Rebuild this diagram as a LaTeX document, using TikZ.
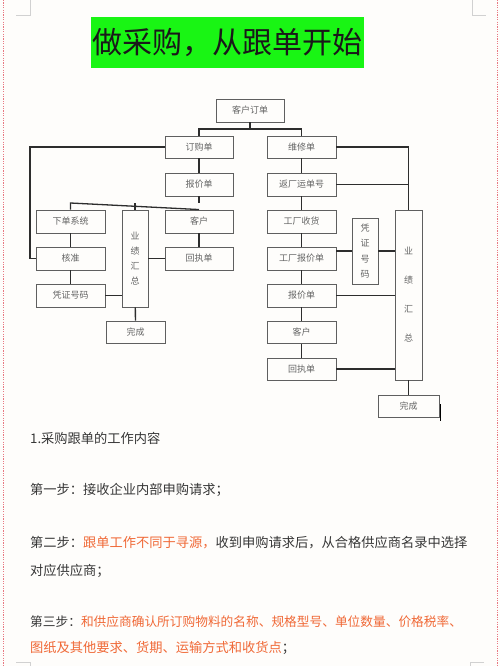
\documentclass[tikz,border=0pt]{standalone}
\usepackage{fontspec}
\setmainfont{Noto Sans CJK SC}
\usetikzlibrary{calc}
\definecolor{boxline}{RGB}{95,95,95}
\definecolor{conn}{RGB}{45,45,45}
\definecolor{boxtext}{RGB}{100,100,100}
\definecolor{txt}{RGB}{55,55,55}
\definecolor{org}{RGB}{240,105,55}
\definecolor{grn}{RGB}{25,245,20}
\definecolor{pinkred}{RGB}{232,120,130}
\definecolor{paper}{RGB}{254,253,251}
\tikzset{
  box/.style={draw=boxline, line width=0.9pt, minimum width=68pt, minimum height=23pt, inner sep=0pt, text=boxtext, font=\fontsize{9}{11}\selectfont},
  vbox/.style={box, minimum width=26pt, align=center},
  link/.style={draw=conn, line width=1.3pt},
  para/.style={anchor=west, inner sep=0pt, text=txt, font=\fontsize{13.25}{16}\selectfont},
  corner/.style={draw=black!18, line width=0.8pt}
}
\begin{document}
\begin{tikzpicture}[x=1pt,y=-1pt]
\fill[paper] (0,0) rectangle (500,666);
\useasboundingbox (0,0) rectangle (500,666);
% page border and corner marks
\draw[pinkred, line width=0.9pt, dash pattern=on 1.2pt off 1.2pt] (3,0) -- (3,666);
\draw[pinkred, line width=0.9pt, dash pattern=on 1.2pt off 1.2pt] (497,0) -- (497,666);
\draw[corner] (30,0) -- (30,15) -- (16,15);
\draw[corner] (472,0) -- (472,15) -- (486,15);
\draw[corner] (16,662) -- (30,662) -- (30,666);
\draw[corner] (484,662) -- (470,662) -- (470,666);

% title
\node[fill=grn, minimum width=273pt, minimum height=51pt, inner sep=0pt, font=\fontsize{30}{32}\selectfont, text=black!90] (title) at (227.5,42.5) {做采购，从跟单开始};

% top
\node[box] (kd) at (250,110.5) {客户订单};
% left branch
\node[box, minimum height=22pt] (dgd) at (199,147) {订购单};
\node[box] (bjd) at (199,184.5) {报价单};
\node[box, minimum width=69pt] (xdxt) at (70.5,221.5) {下单系统};
\node[vbox, minimum height=97pt, font=\fontsize{9}{15}\selectfont] (yj1) at (135,258.5) {业\\绩\\汇\\总};
\node[box] (kh1) at (199,221.5) {客户};
\node[box, minimum width=69pt] (hz) at (70.5,258.5) {核准};
\node[box] (hzd1) at (199,258.5) {回执单};
\node[box, minimum width=69pt] (pz1) at (70.5,295.5) {凭证号码};
\node[box, minimum width=59pt, minimum height=22pt] (wc1) at (135.5,332) {完成};
% right branch
\node[box, minimum width=69pt, minimum height=22pt] (wxd) at (301.5,147) {维修单};
\node[box, minimum width=69pt] (fc) at (301.5,184.5) {返厂运单号};
\node[box, minimum width=69pt] (gcsh) at (301.5,221.5) {工厂收货};
\node[box, minimum width=69pt] (gcbj) at (301.5,258.5) {工厂报价单};
\node[box, minimum width=69pt] (bjd2) at (301.5,295.5) {报价单};
\node[box, minimum width=69pt, minimum height=22pt] (kh2) at (301.5,332.5) {客户};
\node[box, minimum width=69pt, minimum height=22pt] (hzd2) at (301.5,369) {回执单};
\node[vbox, minimum height=66pt, font=\fontsize{9}{15.5}\selectfont] (pz2) at (365,251) {凭\\证\\号\\码};
\node[vbox, minimum width=27pt, minimum height=170pt, font=\fontsize{9}{29}\selectfont] (yj2) at (408.5,295) {业\\绩\\汇\\总};
\node[box, minimum width=61pt, minimum height=22pt] (wc2) at (408.5,406) {完成};

% connectors top
\coordinate (j1) at (250,129);
\draw[link] (kd) -- (j1);
\draw[link] (dgd.north) -- (dgd.north |- j1) -- (wxd.north |- j1) -- (wxd.north);
% left connectors
\draw[link] (dgd) -- (bjd);
\coordinate (j2) at (199,203);
\draw[link] (bjd.south) -- (j2);
\draw[link] (xdxt.north) -- (xdxt.north |- j2) -- (kh1.north);
\draw[link] (yj1.north) -- (yj1.north |- j2);
\draw[link] (xdxt) -- (hz);
\draw[link] (hz) -- (pz1);
\draw[link] (kh1) -- (hzd1);
\coordinate (lft) at (30,258.5);
\draw[link] (dgd.west) -| (lft) -- (hz.west);
\draw[link] (hzd1.west) -- (hzd1.west -| yj1.east);
\draw[link] (pz1.east) -- (pz1.east -| yj1.west);
\draw[link] (yj1) -- (wc1);
% right connectors
\draw[link] (wxd) -- (fc);
\draw[link] (fc) -- (gcsh);
\draw[link] (gcsh) -- (gcbj);
\draw[link] (gcbj) -- (bjd2);
\draw[link] (bjd2) -- (kh2);
\draw[link] (kh2) -- (hzd2);
\draw[link] (wxd.east) -| (yj2.north);
\draw[link] (fc.east) -- (fc.east -| yj2.north);
\draw[link] (pz2.west) -- (pz2.west -| gcbj.east);
\draw[link] (pz2.east) -- (pz2.east -| yj2.west);
\draw[link] (bjd2.east) -- (bjd2.east -| yj2.west);
\draw[link] (hzd2.east) -- (hzd2.east -| yj2.west);
\draw[link] (yj2) -- (wc2);
% cursor bar
\draw[black, line width=1.5pt] (440.5,404) -- (440.5,421);

% text
\node[para] (t1) at (30,438) {1.采购跟单的工作内容};
\node[para] (t2) at (30,490) {第一步：接收企业内部申购请求；};
\node[para] (t3) at (30,543) {第二步：\textcolor{org}{跟单工作不同于寻源，}收到申购请求后，从合格供应商名录中选择};
\node[para] (t4) at (30,571) {对应供应商；};
\node[para, font=\fontsize{12.7}{16}\selectfont] (t5) at (30,622) {第三步：\textcolor{org}{和供应商确认所订购物料的名称、规格型号、单位数量、价格税率、}};
\node[para] (t6) at (30,648) {\textcolor{org}{图纸及其他要求、货期、运输方式和收货点}；};
\end{tikzpicture}
\end{document}
